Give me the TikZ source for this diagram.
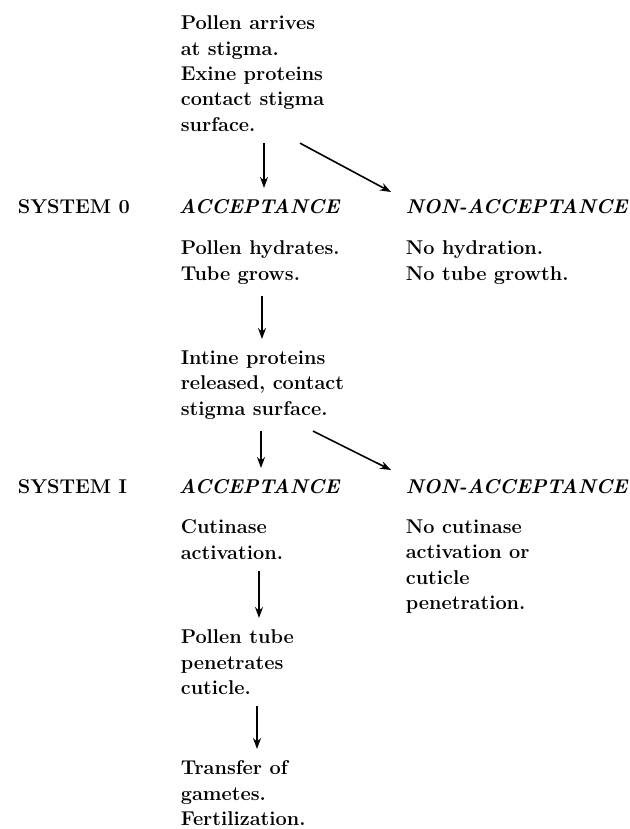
\documentclass[tikz,border=0pt]{standalone}
\usepackage{fontspec}
\setmainfont{Latin Modern Roman}
\usepackage{tikz}
\usetikzlibrary{arrows.meta}
\newcommand\acctext{\bfseries\itshape}

\begin{document}
\begin{tikzpicture}[>={Stealth[length=11bp,width=8bp]},line width=1.6bp,x=1bp,y=-1bp,
  txt/.style={inner xsep=0pt,inner ysep=11bp,anchor=north west,align=left,
    font=\fontsize{20}{25.5}\selectfont\bfseries},
  acc/.style={txt,font=\fontsize{20}{25.5}\selectfont\acctext}]
\useasboundingbox (0,0) rectangle (630,829);
% system 0
\node[txt] (pollen) at (180,4) {Pollen arrives\\at stigma.\\Exine proteins\\contact stigma\\surface.};
\node[txt] (sys0) at (17,188) {SYSTEM 0};
\node[acc] (acc0) at (178,188) {ACCEPTANCE};
\node[acc] (non0) at (405,188) {NON-ACCEPTANCE};
\node[txt] (hyd) at (180,229) {Pollen hydrates.\\Tube grows.};
\node[txt] (nohyd) at (405,229) {No hydration.\\No tube growth.};
\node[txt] (intine) at (180,339) {Intine proteins\\released, contact\\stigma surface.};
% system I
\node[txt] (sys1) at (17,468) {SYSTEM I};
\node[acc] (acc1) at (178,468) {ACCEPTANCE};
\node[acc] (non1) at (405,468) {NON-ACCEPTANCE};
\node[txt] (cut) at (180,508) {Cutinase\\activation.};
\node[txt] (nocut) at (405,508) {No cutinase\\activation or\\cuticle\\penetration.};
\node[txt] (tube) at (180,618) {Pollen tube\\penetrates\\cuticle.};
\node[txt] (fert) at (180,749) {Transfer of\\gametes.\\Fertilization.};
% arrows
\coordinate (x1) at (264,0);
\coordinate (x2) at (262,0);
\coordinate (x3) at (261,0);
\coordinate (x4) at (259,0);
\coordinate (x5) at (257,0);
\coordinate (d1) at (300,0);
\coordinate (d2) at (313,0);
\draw[->] (pollen.south -| x1) -- (acc0.north -| x1);
\draw[->] (pollen.south -| d1) -- ([xshift=-14bp,yshift=-4bp]non0.north west);
\draw[->] (hyd.south -| x2) -- (intine.north -| x2);
\draw[->] (intine.south -| x3) -- (acc1.north -| x3);
\draw[->] (intine.south -| d2) -- ([xshift=-14bp,yshift=-2bp]non1.north west);
\draw[->] (cut.south -| x4) -- (tube.north -| x4);
\draw[->] (tube.south -| x5) -- (fert.north -| x5);
\end{tikzpicture}
\end{document}
